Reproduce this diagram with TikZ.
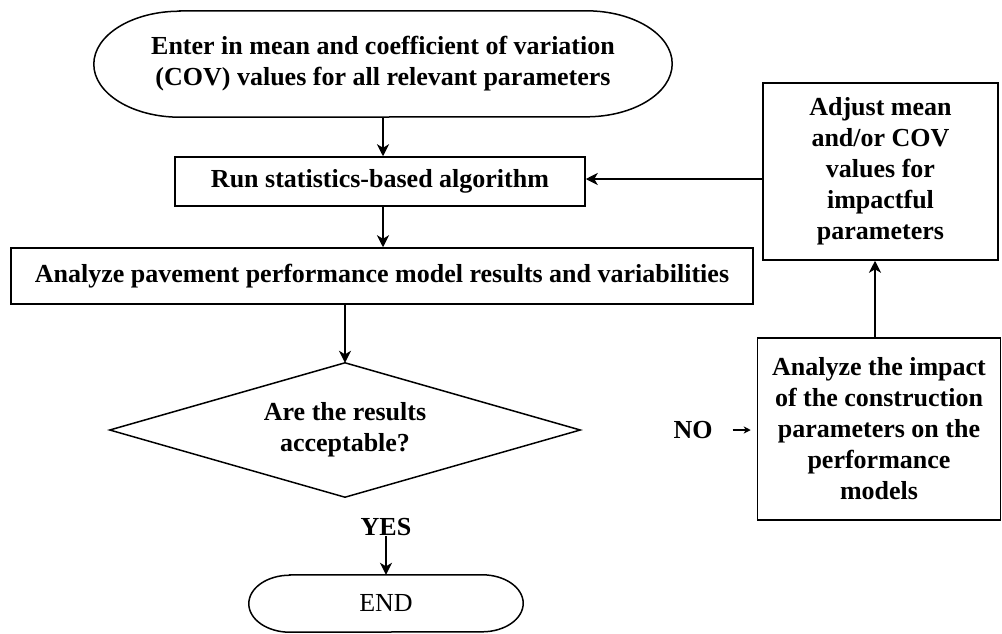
\documentclass[tikz,border=0pt]{standalone}
\usepackage{fontspec}
\setmainfont{Liberation Serif}
\usetikzlibrary{arrows.meta}
\begin{document}
\begin{tikzpicture}[x=1pt,y=-1pt,
  every node/.style={font=\fontsize{26}{31}\selectfont\bfseries, align=center, inner sep=0pt},
  boxnode/.style={draw, line width=1.5pt},
  shapeline/.style={line width=1.5pt},
  arr/.style={line width=2.6pt, -{Stealth[length=12pt,width=12pt,inset=3.5pt]}},
  smallarr/.style={line width=1.8pt, -{Stealth[length=7pt,width=7pt,inset=2pt]}}]
\useasboundingbox (0,0) rectangle (1002,633);

% start terminal
\node[minimum width=578pt, minimum height=106pt] (start) at (383,64)
  {Enter in mean and coefficient of variation\\(COV) values for all relevant parameters};
\draw[shapeline] ([xshift=86pt]start.north west) -- ([xshift=-86pt]start.north east)
  arc[start angle=90,end angle=-90,x radius=86pt,y radius=53pt]
  -- ([xshift=86pt]start.south west)
  arc[start angle=270,end angle=90,x radius=86pt,y radius=53pt] -- cycle;

\node[boxnode, minimum width=410pt, minimum height=49pt] (run) at (380,181.5) {Run statistics-based algorithm};
\node[boxnode, minimum width=742pt, minimum height=56pt] (ana) at (382,276) {Analyze pavement performance model results and variabilities};

% decision
\node[minimum width=470pt, minimum height=134pt] (dec) at (345,430) {Are the results\\acceptable?};
\draw[shapeline] (dec.north) -- (dec.east) -- (dec.south) -- (dec.west) -- cycle;

\node (yes) at (386,527) {YES};
\node (no) at (693,430) {NO};

% end terminal
\node[font=\fontsize{26}{31}\selectfont, minimum width=274pt, minimum height=57pt] (end) at (386,603.5) {END};
\draw[shapeline] ([xshift=41pt]end.north west) -- ([xshift=-41pt]end.north east)
  arc[start angle=90,end angle=-90,x radius=41pt,y radius=28.5pt]
  -- ([xshift=41pt]end.south west)
  arc[start angle=270,end angle=90,x radius=41pt,y radius=28.5pt] -- cycle;

\node[boxnode, minimum width=243pt, minimum height=182pt] (imp) at (879,429)
  {Analyze the impact\\of the construction\\parameters on the\\performance\\models};
\node[boxnode, minimum width=235pt, minimum height=177pt] (adj) at (880.5,171.5)
  {Adjust mean\\and/or COV\\values for\\impactful\\parameters};

% connectors
\draw[arr] (start.south) -- (start.south |- run.north);
\draw[arr] (start.south |- run.south) -- (start.south |- ana.north);
\draw[arr] (dec.north |- ana.south) -- (dec.north);
\draw[arr] (yes.south) -- (yes.south |- end.north);
\draw[smallarr, shorten <=20pt, shorten >=6pt] (no.east) -- (no.east -| imp.west);
\draw[arr] ([xshift=-4pt]imp.north) -- ([xshift=-4pt]imp.north |- adj.south);
\draw[arr] (adj.west |- 0,179) -- (run.east |- 0,179);
\end{tikzpicture}
\end{document}
